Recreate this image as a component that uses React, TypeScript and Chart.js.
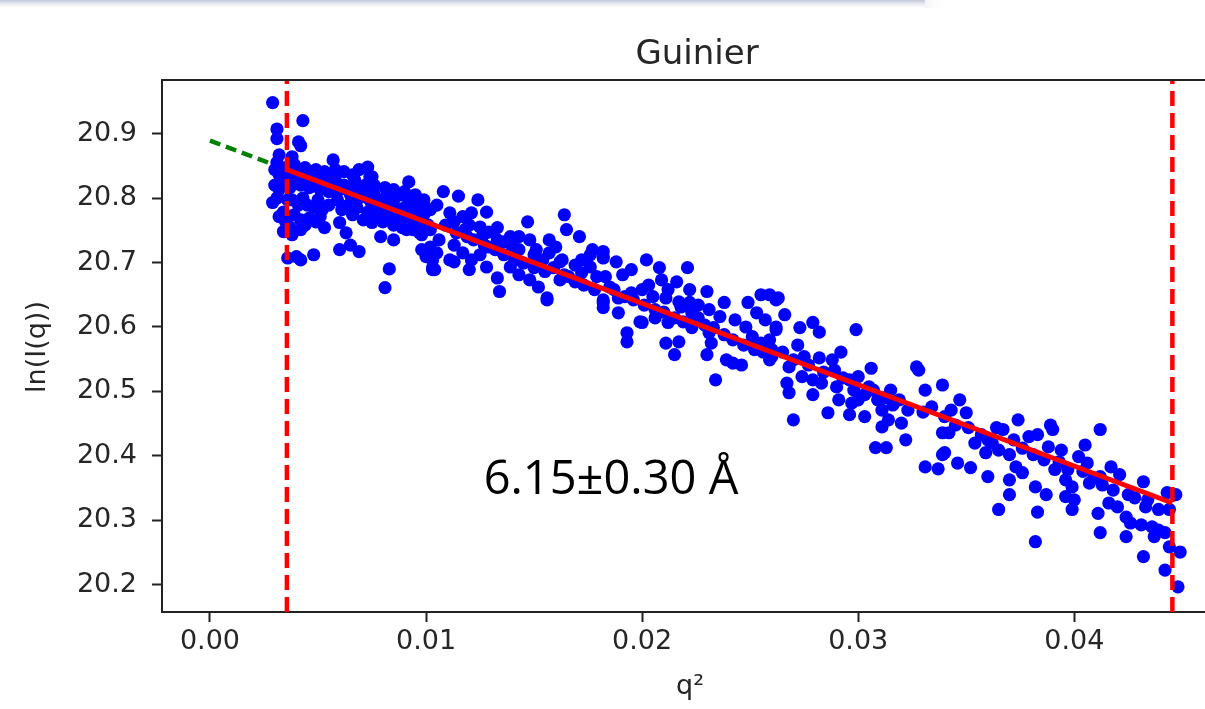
import React, { useEffect, useRef } from "react";
import { Chart, registerables } from "chart.js";

Chart.register(...registerables);

// ---- Data ----
const chartTitle = "Guinier";
const xAxisLabel = "q\u00b2";
const yAxisLabel = "ln(I(q))";
const radiusLabel = "6.15\u00b10.30 \u00c5";

const xTicks = [0, 0.01, 0.02, 0.03, 0.04];
const yTicks = [20.2, 20.3, 20.4, 20.5, 20.6, 20.7, 20.8, 20.9];
const xRange = [-0.00222, 0.04605];
const yRange = [20.158, 20.983];

// Guinier fit limits (q^2) and fitted line
const guinierLimits = [0.00356, 0.04454];
const fitLine: [number, number][] = [
  [0.00356, 20.844],
  [0.04454, 20.327],
];
const extrapolation: [number, number][] = [
  [0.0, 20.889],
  [0.00356, 20.844],
];

// measured points [q^2, ln(I(q))]
const measured: [number, number][] = [
  // q^2 0.003 - 0.0055
  [0.0029, 20.948], [0.0043, 20.92], [0.0031, 20.907], [0.0031, 20.892], [0.0041, 20.887], [0.0042, 20.881],
  [0.0032, 20.867], [0.0038, 20.864], [0.0031, 20.855], [0.0057, 20.859], [0.0043, 20.844], [0.0048, 20.841],
  [0.003, 20.844], [0.0032, 20.836], [0.0035, 20.847], [0.0037, 20.841], [0.0039, 20.852], [0.0042, 20.844],
  [0.0044, 20.847], [0.0046, 20.841], [0.0049, 20.844], [0.0051, 20.836], [0.0053, 20.841], [0.0055, 20.831],
  [0.003, 20.82], [0.0032, 20.813], [0.0035, 20.824], [0.0037, 20.816], [0.0039, 20.828], [0.0042, 20.82],
  [0.0044, 20.825], [0.0046, 20.816], [0.0049, 20.82], [0.0051, 20.813], [0.0053, 20.819], [0.0055, 20.81],
  [0.0029, 20.793], [0.0031, 20.8], [0.0034, 20.778], [0.0036, 20.797], [0.0038, 20.797], [0.0041, 20.789],
  [0.0043, 20.8], [0.0045, 20.789], [0.0048, 20.786], [0.005, 20.797], [0.0052, 20.782], [0.0055, 20.789],
  [0.0032, 20.771], [0.0035, 20.763], [0.0037, 20.755], [0.0039, 20.774], [0.0042, 20.766], [0.0044, 20.758],
  [0.0046, 20.769], [0.0049, 20.763], [0.0051, 20.771], [0.0053, 20.754], [0.0034, 20.748], [0.0038, 20.743],
  [0.0042, 20.751], [0.0036, 20.707], [0.004, 20.709], [0.0042, 20.704], [0.0048, 20.712],
  // q^2 0.0055 - 0.0103
  [0.0073, 20.848], [0.0074, 20.833], [0.0069, 20.844], [0.0075, 20.833], [0.0092, 20.825], [0.0066, 20.836],
  [0.0085, 20.808], [0.0088, 20.782], [0.0094, 20.793], [0.0097, 20.771], [0.0102, 20.751], [0.006, 20.762],
  [0.0063, 20.746], [0.006, 20.72], [0.0065, 20.727], [0.0069, 20.717], [0.0075, 20.762], [0.0079, 20.74],
  [0.0085, 20.735], [0.0091, 20.751], [0.0098, 20.72], [0.0103, 20.704], [0.0103, 20.689], [0.0083, 20.69],
  [0.0081, 20.661], [0.0088, 20.762], [0.0097, 20.746], [0.01, 20.709],
  [0.0058, 20.828], [0.006, 20.813], [0.0062, 20.82], [0.0065, 20.805], [0.0067, 20.816], [0.0069, 20.8],
  [0.0072, 20.813], [0.0074, 20.797], [0.0076, 20.805], [0.0079, 20.789], [0.0081, 20.8], [0.0083, 20.785],
  [0.0085, 20.797], [0.0088, 20.805], [0.009, 20.785], [0.0092, 20.797], [0.0095, 20.778], [0.0097, 20.789],
  [0.0099, 20.774], [0.0102, 20.782],
  [0.0059, 20.797], [0.0061, 20.782], [0.0064, 20.789], [0.0066, 20.774], [0.0068, 20.785], [0.0071, 20.766],
  [0.0073, 20.778], [0.0075, 20.789], [0.0078, 20.774], [0.008, 20.763], [0.0082, 20.774], [0.0085, 20.758],
  [0.0087, 20.769], [0.0089, 20.754], [0.0091, 20.766], [0.0094, 20.751], [0.0096, 20.763], [0.0098, 20.743],
  [0.0101, 20.758],
  [0.0058, 20.844], [0.0062, 20.841], [0.0067, 20.828], [0.0072, 20.82], [0.0076, 20.82], [0.0081, 20.816],
  [0.0085, 20.813], [0.009, 20.81], [0.0095, 20.805], [0.0099, 20.797],
  // q^2 0.0103 - 0.0182
  [0.0108, 20.81], [0.0115, 20.803], [0.0124, 20.797], [0.0128, 20.778], [0.0105, 20.789], [0.0111, 20.777],
  [0.0117, 20.771], [0.0121, 20.777], [0.0125, 20.755], [0.0133, 20.754], [0.0147, 20.763], [0.0164, 20.774],
  [0.0165, 20.751], [0.0171, 20.74], [0.0177, 20.72], [0.0182, 20.709], [0.0102, 20.724], [0.0105, 20.715],
  [0.0104, 20.689], [0.0111, 20.704], [0.0117, 20.715], [0.0121, 20.704], [0.0128, 20.693], [0.0133, 20.676],
  [0.0134, 20.655], [0.0139, 20.693], [0.0143, 20.74], [0.0148, 20.735], [0.0151, 20.72], [0.0154, 20.704],
  [0.0157, 20.715], [0.016, 20.724], [0.0163, 20.704], [0.0148, 20.673], [0.0152, 20.662], [0.0156, 20.642],
  [0.0162, 20.673], [0.0166, 20.678], [0.0172, 20.684], [0.0179, 20.678], [0.0182, 20.642], [0.0182, 20.63],
  [0.0139, 20.74], [0.014, 20.724], [0.0129, 20.724], [0.0126, 20.74], [0.0133, 20.735], [0.0119, 20.74],
  [0.0114, 20.746], [0.0172, 20.704], [0.0176, 20.693], [0.0103, 20.692], [0.0156, 20.645],
  [0.0109, 20.758], [0.0113, 20.763], [0.0118, 20.751], [0.0122, 20.735], [0.0127, 20.727], [0.0132, 20.72],
  [0.0136, 20.712], [0.0141, 20.704], [0.0145, 20.699], [0.015, 20.692], [0.0155, 20.686], [0.0159, 20.692],
  [0.0164, 20.681], [0.0169, 20.67], [0.0173, 20.665], [0.0178, 20.658],
  [0.0106, 20.735], [0.0113, 20.727], [0.012, 20.758], [0.0129, 20.747], [0.0136, 20.732], [0.0143, 20.72],
  [0.015, 20.712], [0.0157, 20.735], [0.0162, 20.701], [0.0169, 20.696], [0.0176, 20.712],
  [0.0113, 20.701], [0.012, 20.689], [0.0143, 20.681], [0.0125, 20.712],
  // q^2 0.0182 - 0.0262
  [0.0182, 20.717], [0.0182, 20.707], [0.0188, 20.701], [0.0202, 20.704], [0.0208, 20.692], [0.0221, 20.692],
  [0.0216, 20.67], [0.0209, 20.673], [0.0195, 20.689], [0.0191, 20.681], [0.0183, 20.678], [0.0185, 20.662],
  [0.0195, 20.653], [0.02, 20.658], [0.0205, 20.647], [0.0211, 20.645], [0.0217, 20.639], [0.0222, 20.638],
  [0.0226, 20.634], [0.023, 20.655], [0.0238, 20.638], [0.0236, 20.616], [0.0231, 20.627], [0.0223, 20.622],
  [0.0218, 20.631], [0.0182, 20.638], [0.0189, 20.622], [0.02, 20.607], [0.0206, 20.614], [0.0212, 20.607],
  [0.0193, 20.591], [0.0193, 20.577], [0.0211, 20.575], [0.0217, 20.577], [0.0215, 20.557], [0.0223, 20.599],
  [0.0231, 20.591], [0.0232, 20.575], [0.023, 20.557], [0.0239, 20.549], [0.0242, 20.544], [0.0246, 20.541],
  [0.0234, 20.518], [0.0243, 20.611], [0.0248, 20.6], [0.0251, 20.585], [0.0255, 20.575], [0.026, 20.565],
  [0.0249, 20.638], [0.0255, 20.65], [0.0262, 20.642], [0.0253, 20.622], [0.0257, 20.611], [0.0262, 20.6],
  [0.026, 20.554], [0.0199, 20.608],
  [0.0187, 20.658], [0.0192, 20.647], [0.0196, 20.642], [0.0201, 20.634], [0.0206, 20.627], [0.021, 20.623],
  [0.0215, 20.614], [0.0219, 20.608], [0.0224, 20.611], [0.0229, 20.603], [0.0233, 20.599], [0.0238, 20.588],
  [0.0242, 20.58], [0.0247, 20.572], [0.0252, 20.565], [0.0256, 20.561],
  [0.0203, 20.665], [0.0212, 20.658], [0.0226, 20.614], [0.0189, 20.645], [0.0222, 20.658],
  // q^2 0.0259 - 0.034
  [0.0263, 20.645], [0.0259, 20.65], [0.0266, 20.619], [0.0262, 20.596], [0.0259, 20.58], [0.0273, 20.599],
  [0.0279, 20.607], [0.0282, 20.592], [0.0299, 20.596], [0.0272, 20.572], [0.0265, 20.561], [0.0259, 20.549],
  [0.0275, 20.554], [0.0282, 20.552], [0.0288, 20.549], [0.0292, 20.561], [0.0268, 20.538], [0.0274, 20.523],
  [0.0267, 20.513], [0.0268, 20.498], [0.0279, 20.495], [0.0283, 20.513], [0.029, 20.507], [0.0296, 20.518],
  [0.03, 20.523], [0.0306, 20.536], [0.0305, 20.507], [0.0291, 20.487], [0.0297, 20.482], [0.0286, 20.467],
  [0.0296, 20.464], [0.0303, 20.461], [0.027, 20.456], [0.0309, 20.487], [0.0315, 20.502], [0.0319, 20.487],
  [0.0327, 20.538], [0.0328, 20.533], [0.0331, 20.502], [0.0339, 20.51], [0.0311, 20.471], [0.0314, 20.456],
  [0.032, 20.451], [0.0311, 20.445], [0.0308, 20.413], [0.0313, 20.413], [0.0322, 20.425], [0.0334, 20.476],
  [0.034, 20.461], [0.0339, 20.436], [0.0339, 20.402], [0.0331, 20.383], [0.0337, 20.38],
  [0.027, 20.549], [0.0277, 20.541], [0.0284, 20.53], [0.0293, 20.521], [0.0298, 20.502], [0.0303, 20.495],
  [0.0307, 20.502], [0.0312, 20.49], [0.0316, 20.479], [0.0323, 20.471], [0.033, 20.468], [0.0279, 20.518],
  [0.0289, 20.533], [0.03, 20.487],
  // q^2 0.034 - 0.045
  [0.0343, 20.471], [0.0347, 20.487], [0.035, 20.467], [0.0342, 20.436], [0.034, 20.405], [0.0346, 20.389],
  [0.0352, 20.382], [0.0354, 20.42], [0.0359, 20.405], [0.0362, 20.42], [0.0364, 20.444], [0.0367, 20.441],
  [0.0374, 20.456], [0.036, 20.368], [0.037, 20.402], [0.0373, 20.383], [0.037, 20.363], [0.0376, 20.374],
  [0.0379, 20.43], [0.0383, 20.433], [0.0389, 20.448], [0.039, 20.441], [0.0388, 20.414], [0.0394, 20.409],
  [0.0391, 20.379], [0.0396, 20.363], [0.0399, 20.352], [0.0402, 20.399], [0.0405, 20.417], [0.0406, 20.389],
  [0.0407, 20.358], [0.0412, 20.441], [0.0412, 20.368], [0.0417, 20.383], [0.0421, 20.371], [0.0365, 20.317],
  [0.037, 20.34], [0.0382, 20.352], [0.0387, 20.34], [0.0383, 20.313], [0.0382, 20.267], [0.0396, 20.337],
  [0.04, 20.332], [0.0399, 20.317], [0.0411, 20.311], [0.0416, 20.327], [0.042, 20.321], [0.0412, 20.281],
  [0.0424, 20.305], [0.0428, 20.335], [0.0432, 20.36], [0.0433, 20.321], [0.0426, 20.296], [0.0431, 20.293],
  [0.0436, 20.29], [0.0439, 20.285], [0.0442, 20.281], [0.0443, 20.343], [0.0447, 20.34], [0.0444, 20.317],
  [0.0424, 20.275], [0.0437, 20.275], [0.0432, 20.244], [0.0444, 20.259], [0.0449, 20.251], [0.0442, 20.223],
  [0.0448, 20.197],
  [0.0345, 20.448], [0.0351, 20.444], [0.0357, 20.433], [0.0372, 20.425], [0.0376, 20.412], [0.0381, 20.402],
  [0.0386, 20.394], [0.0393, 20.391], [0.0397, 20.379], [0.0404, 20.376], [0.0409, 20.366], [0.0413, 20.355],
  [0.0418, 20.347], [0.0425, 20.34], [0.0434, 20.332], [0.0439, 20.317], [0.036, 20.425], [0.0365, 20.409],
];

const toXY = (pts: [number, number][]) => pts.map(([x, y]) => ({ x, y }));

const TICK_FONT = { family: "'DejaVu Sans', sans-serif", size: 27 };
const AXIS_COLOR = "#222222";
const TEXT_COLOR = "#262626";

const decorPlugin = {
  id: "decor",
  beforeDraw(chart: any) {
    const ctx = chart.ctx as CanvasRenderingContext2D;
    ctx.save();
    const g = ctx.createLinearGradient(0, 0, 0, 10);
    g.addColorStop(0, "rgba(190,195,214,0.95)");
    g.addColorStop(1, "rgba(255,255,255,0)");
    ctx.fillStyle = g;
    ctx.fillRect(0, 0, 925, 10);
    const h = ctx.createLinearGradient(900, 0, 950, 0);
    h.addColorStop(0, "rgba(200,204,220,0.8)");
    h.addColorStop(1, "rgba(255,255,255,0)");
    ctx.fillStyle = h;
    ctx.fillRect(925, 0, 25, 8);
    ctx.restore();
  },
  afterDraw(chart: any) {
    const ctx = chart.ctx as CanvasRenderingContext2D;
    const a = chart.chartArea;
    ctx.save();
    // top spine
    ctx.strokeStyle = AXIS_COLOR;
    ctx.lineWidth = 2;
    ctx.beginPath();
    ctx.moveTo(a.left - 1, a.top);
    ctx.lineTo(a.right, a.top);
    ctx.stroke();
    // title
    ctx.fillStyle = TEXT_COLOR;
    ctx.textAlign = "center";
    ctx.textBaseline = "alphabetic";
    ctx.font = "34px 'DejaVu Sans', sans-serif";
    ctx.fillText(chartTitle, 697, 64);
    // x label
    ctx.font = "27px 'DejaVu Sans', sans-serif";
    ctx.fillText(xAxisLabel, 690, 694);
    // y label
    ctx.save();
    ctx.translate(38, 347);
    ctx.rotate(-Math.PI / 2);
    ctx.textBaseline = "middle";
    ctx.fillText(yAxisLabel, 0, 0);
    ctx.restore();
    // radius annotation
    ctx.fillStyle = "#000000";
    ctx.font = "47px 'Open Sans', sans-serif";
    ctx.textAlign = "center";
    ctx.fillText(radiusLabel, 611, 494);
    ctx.restore();
  },
};

export default function App() {
  const canvasRef = useRef<HTMLCanvasElement | null>(null);

  useEffect(() => {
    if (!canvasRef.current) return;
    const vline = (x: number) => [
      { x, y: yRange[0] },
      { x, y: yRange[1] },
    ];
    const chart = new Chart(canvasRef.current, {
      type: "scatter",
      data: {
        datasets: [
          {
            label: "fit",
            data: toXY(fitLine),
            showLine: true,
            borderColor: "#ff0000",
            borderWidth: 5,
            pointRadius: 0,
            order: 0,
          } as any,
          {
            label: "qmin",
            data: vline(guinierLimits[0]),
            showLine: true,
            borderColor: "#ff0000",
            borderWidth: 4.5,
            borderDash: [15, 7],
            pointRadius: 0,
            order: 0,
          } as any,
          {
            label: "qmax",
            data: vline(guinierLimits[1]),
            showLine: true,
            borderColor: "#ff0000",
            borderWidth: 4.5,
            borderDash: [15, 7],
            pointRadius: 0,
            order: 0,
          } as any,
          {
            label: "data",
            data: toXY(measured),
            backgroundColor: "#0000ff",
            borderColor: "#0000ff",
            borderWidth: 0,
            pointRadius: 6.6,
            order: 1,
          } as any,
          {
            label: "extrapolation",
            data: toXY(extrapolation),
            showLine: true,
            borderColor: "#008000",
            borderWidth: 4.5,
            borderDash: [11, 6],
            pointRadius: 0,
            order: 2,
          } as any,
        ],
      },
      options: {
        animation: false,
        responsive: false,
        devicePixelRatio: 1,
        layout: { autoPadding: false, padding: { top: 80, left: 0, right: 0, bottom: 0 } },
        plugins: {
          legend: { display: false },
          tooltip: { enabled: false },
          title: { display: false },
        },
        scales: {
          x: {
            type: "linear",
            min: xRange[0],
            max: xRange[1],
            afterBuildTicks: (s: any) => {
              s.ticks = xTicks.map((v) => ({ value: v }));
            },
            afterFit: (s: any) => {
              s.height = 97;
              s.paddingLeft = 0;
              s.paddingRight = 0;
            },
            ticks: {
              callback: (v: any) => Number(v).toFixed(2),
              font: TICK_FONT,
              color: TEXT_COLOR,
              padding: 4,
              maxRotation: 0,
              autoSkip: false,
            },
            grid: {
              display: true,
              drawOnChartArea: false,
              drawTicks: true,
              tickLength: 10,
              tickColor: AXIS_COLOR,
              tickWidth: 2,
            },
            border: { display: true, color: AXIS_COLOR, width: 2 },
          },
          y: {
            type: "linear",
            min: yRange[0],
            max: yRange[1],
            afterBuildTicks: (s: any) => {
              s.ticks = yTicks.map((v) => ({ value: v }));
            },
            afterFit: (s: any) => {
              s.width = 162;
              s.paddingTop = 0;
              s.paddingBottom = 0;
            },
            ticks: {
              callback: (v: any) => Number(v).toFixed(1),
              font: TICK_FONT,
              color: TEXT_COLOR,
              padding: 15,
              autoSkip: false,
            },
            grid: {
              display: true,
              drawOnChartArea: false,
              drawTicks: true,
              tickLength: 10,
              tickColor: AXIS_COLOR,
              tickWidth: 2,
            },
            border: { display: true, color: AXIS_COLOR, width: 2 },
          },
        },
      },
      plugins: [decorPlugin],
    } as any);
    return () => chart.destroy();
  }, []);

  return (
    <div style={{ position: "absolute", left: 0, top: 0, width: 1205, height: 709, background: "#ffffff" }}>
      <canvas ref={canvasRef} width={1205} height={709} style={{ width: 1205, height: 709, display: "block" }} />
    </div>
  );
}
